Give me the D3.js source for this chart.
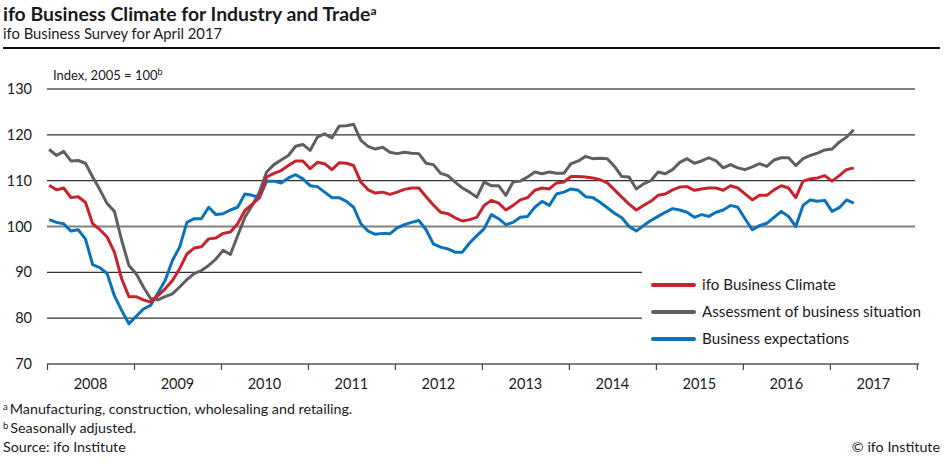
<!DOCTYPE html>
<html>

<head>
    <meta charset="utf-8">
    <style>
        body {
            margin: 0;
            background: #fff;
            font-family: Lato, "Open Sans", sans-serif;
        }

        svg text {
            fill: #1a1a1a;
        }

        .title {
            font-size: 19.4px;
            font-weight: 700;
        }

        .subtitle {
            font-size: 14.8px;
        }

        .tick-label {
            font-size: 14.5px;
        }

        .note {
            font-size: 14.3px;
        }

        .unit {
            font-size: 13px;
        }

        .legend-label {
            font-size: 15.2px;
        }
    </style>
</head>

<body>
    <svg width="945" height="464"></svg>

    <script src="https://d3js.org/d3.v7.min.js"></script>

    <script>
        // monthly values, Jan 2008 .. Apr 2017
        let climate = [
            109, 108, 108.4, 106.3, 106.5, 105.3, 100.6, 99.3, 97.7, 94.4, 88.6, 84.7,
            84.7, 84, 83.5, 84.9, 86.4, 88.2, 90.8, 94, 95.3, 95.6, 97.3, 97.5,
            98.5, 98.8, 100.6, 103.5, 104.8, 106.3, 110.8, 111.6, 112.2, 113.3, 114.3, 114.3,
            112.6, 114, 113.7, 112.4, 113.9, 113.8, 113.3, 109.7, 108, 107.3, 107.5, 107,
            107.5, 108.1, 108.4, 108.4, 106.5, 104.7, 103.1, 102.8, 101.9, 101.2, 101.5, 102,
            104.6, 105.7, 105.1, 103.6, 104.6, 105.8, 106.3, 107.9, 108.4, 108.2, 109.5, 109.7,
            110.9, 110.9, 110.8, 110.6, 110.2, 109.5, 108, 106.4, 104.9, 103.6, 104.6, 105.5,
            106.8, 107.1, 108, 108.6, 108.7, 107.9, 108.2, 108.4, 108.4, 107.9, 108.9, 108.4,
            107.1, 105.8, 106.8, 106.8, 108, 108.9, 108.4, 106.3, 109.9, 110.4, 110.6, 111.1,
            109.9, 111.1, 112.4, 112.8
        ]

        let situation = [
            116.8, 115.5, 116.4, 114.3, 114.4, 113.8, 110.8, 108, 105, 103.3, 97, 91.5,
            89.7, 86.8, 84.3, 84, 84.7, 85.3, 86.8, 88.4, 89.7, 90.4, 91.5, 92.9,
            94.8, 93.9, 98, 102, 104.6, 107.5, 111.9, 113.5, 114.5, 115.5, 117.5, 117.9,
            116.6, 119.5, 120.2, 119.3, 121.9, 122, 122.3, 118.8, 117.5, 116.9, 117.3, 116.2,
            115.9, 116.2, 116, 115.9, 113.8, 113.5, 111.6, 111.1, 109.7, 108.4, 107.5, 106.4,
            109.7, 108.9, 108.9, 106.8, 109.7, 109.9, 110.8, 111.9, 111.5, 111.9, 111.6, 111.6,
            113.7, 114.3, 115.3, 114.8, 114.9, 114.8, 113.1, 110.9, 110.8, 108.2, 109.3, 110,
            111.9, 111.5, 112.4, 114, 114.8, 113.8, 114.3, 115, 114.3, 112.8, 113.5, 112.8,
            112.4, 113, 113.7, 113.1, 114.5, 115, 115, 113.3, 114.8, 115.5, 116, 116.7,
            116.9, 118.4, 119.5, 121.1
        ]

        let expectations = [
            101.5, 100.9, 100.6, 99, 99.3, 97.3, 91.7, 91, 89.7, 84.9, 81.7, 78.8,
            80.4, 82, 82.8, 85.5, 88.2, 92.6, 95.5, 100.9, 101.7, 101.7, 104.2, 102.6,
            102.8, 103.6, 104.2, 107.1, 106.8, 106.3, 109.9, 109.9, 109.5, 110.6, 111.3, 110.4,
            108.9, 108.7, 107.5, 106.3, 106.3, 105.5, 104.2, 100.6, 99, 98.3, 98.5, 98.4,
            99.7, 100.4, 100.9, 101.3, 99.3, 96.2, 95.5, 95.1, 94.4, 94.4, 96.4, 98,
            99.5, 102.6, 101.7, 100.4, 100.9, 102, 102.2, 104.2, 105.5, 104.6, 107.1, 107.5,
            108.2, 107.9, 106.5, 106.3, 105.3, 104.1, 102.9, 101.9, 100, 99, 100.2, 101.3,
            102.2, 103.1, 103.9, 103.6, 103.1, 102, 102.6, 102.2, 103.1, 103.6, 104.6, 104.2,
            101.7, 99.3, 100.2, 100.7, 102, 103.3, 102.2, 100, 104.6, 105.8, 105.5, 105.7,
            103.3, 104.1, 105.8, 105.1
        ]

        let years = [2008, 2009, 2010, 2011, 2012, 2013, 2014, 2015, 2016, 2017]
        let yTicks = [70, 80, 90, 100, 110, 120, 130]

        let seriesNames = ["ifo Business Climate", "Assessment of business situation", "Business expectations"]
        let seriesColors = ["#c8232c", "#5f5f5f", "#0a72ba"]

        let svg = d3.select("svg")

        let margin = { top: 89, right: 26, bottom: 100, left: 47 }
        let plotRight = 919

        // months on the x axis, 0 = Jan 2008
        let x = d3.scaleLinear()
            .domain([-0.3, 120])
            .range([margin.left, plotRight])

        let y = d3.scaleLinear()
            .domain([70, 130])
            .range([364, 89])

        // title block
        let title = svg.append("text")
            .attr("class", "title")
            .attr("x", 3)
            .attr("y", 21)
            .text("ifo Business Climate for Industry and Trade")
        title.append("tspan")
            .attr("dy", -6)
            .style("font-size", "12px")
            .text("a")

        svg.append("text")
            .attr("class", "subtitle")
            .attr("x", 3)
            .attr("y", 39)
            .text("ifo Business Survey for April 2017")

        svg.append("line")
            .attr("x1", 3)
            .attr("x2", 940)
            .attr("y1", 48)
            .attr("y2", 48)
            .attr("stroke", "#111")
            .attr("stroke-width", 2)

        let unit = svg.append("text")
            .attr("class", "unit")
            .attr("x", 53)
            .attr("y", 80)
            .text("Index, 2005 = 100")
        unit.append("tspan")
            .attr("dy", -5)
            .style("font-size", "9px")
            .text("b")

        // grid lines (80 and 90 stop before the legend)
        svg.append("g")
            .selectAll("line")
            .data(yTicks.filter(d => d > 70))
            .join("line")
            .attr("x1", margin.left)
            .attr("x2", d => (d < 100 ? 642 : 915))
            .attr("y1", d => y(d))
            .attr("y2", d => y(d))
            .attr("stroke", d => (d == 100 || d == 130 ? "#808080" : "#333"))
            .attr("stroke-width", d => (d == 100 || d == 130 ? 2 : 1.2))

        // y labels
        svg.append("g")
            .selectAll("text")
            .data(yTicks)
            .join("text")
            .attr("class", "tick-label")
            .attr("x", 32)
            .attr("y", d => y(d))
            .attr("dy", "0.35em")
            .attr("text-anchor", "end")
            .text(d => d)

        // x axis with ticks at year boundaries
        let yearEdges = d3.range(years.length + 1).map(i => i * 12 - 0.3)
        let xAxis = d3.axisBottom(x)
            .tickValues(yearEdges)
            .tickSize(6)
            .tickFormat("")

        svg.append("g")
            .attr("transform", `translate(0,${y(70)})`)
            .call(xAxis)
            .call(g => g.select(".domain").attr("stroke", "#808080").attr("stroke-width", 2).attr("d", `M${margin.left},0H${plotRight}`))
            .call(g => g.selectAll(".tick line").attr("stroke", "#444").attr("stroke-width", 1.2))

        svg.append("g")
            .selectAll("text")
            .data(years)
            .join("text")
            .attr("class", "tick-label")
            .attr("x", (d, i) => x(i * 12 + 5.7))
            .attr("y", 389)
            .attr("text-anchor", "middle")
            .text(d => d)

        // lines
        let line = d3.line()
            .x((d, i) => x(i))
            .y(d => y(d))

        let allSeries = [situation, expectations, climate]
        let allColors = [seriesColors[1], seriesColors[2], seriesColors[0]]

        svg.append("g")
            .selectAll("path")
            .data(allSeries)
            .join("path")
            .attr("fill", "none")
            .attr("stroke", (d, i) => allColors[i])
            .attr("stroke-width", 3)
            .attr("stroke-linejoin", "round")
            .attr("d", line)

        // legend
        let legend = svg.append("g")
            .selectAll("g")
            .data(seriesNames)
            .join("g")
            .attr("transform", (d, i) => `translate(653,${285 + i * 27})`)

        legend.append("line")
            .attr("x1", 0)
            .attr("x2", 41)
            .attr("stroke", (d, i) => seriesColors[i])
            .attr("stroke-width", 4)
            .attr("stroke-linecap", "round")

        legend.append("text")
            .attr("class", "legend-label")
            .attr("x", 49)
            .attr("dy", "0.35em")
            .text(d => d)

        // footnotes
        let notes = [["a", "Manufacturing, construction, wholesaling and retailing."], ["b", "Seasonally adjusted."]]
        notes.forEach(function (n, i) {
            let t = svg.append("text")
                .attr("class", "note")
                .attr("x", 3)
                .attr("y", 414 + i * 19)
            t.append("tspan")
                .style("font-size", "9.5px")
                .attr("dy", -4)
                .text(n[0])
            t.append("tspan")
                .attr("dy", 4)
                .attr("dx", 2)
                .text(n[1])
        })

        svg.append("text")
            .attr("class", "note")
            .attr("x", 3)
            .attr("y", 452)
            .text("Source: ifo Institute")

        svg.append("text")
            .attr("class", "note")
            .attr("x", 940)
            .attr("y", 452)
            .attr("text-anchor", "end")
            .text("© ifo Institute")
    </script>
</body>

</html>
